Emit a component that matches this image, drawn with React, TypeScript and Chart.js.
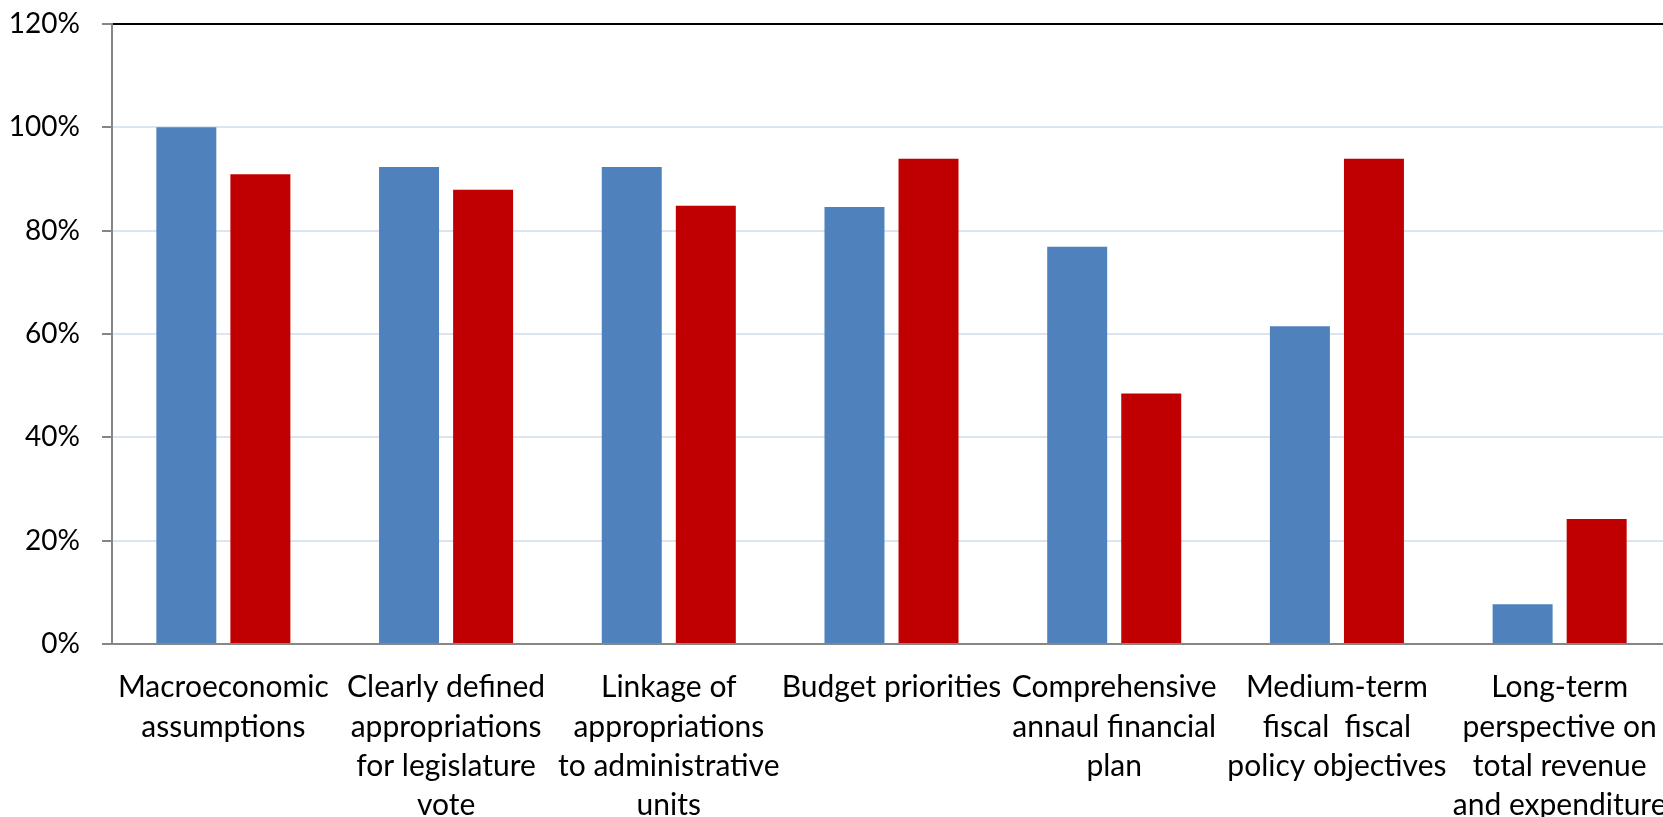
import React, { useEffect, useRef } from "react";
import { Chart, registerables } from "chart.js";

Chart.register(...registerables);

const categories: string[][] = [
  ["Macroeconomic", "assumptions"],
  ["Clearly defined", "appropriations", "for legislature", "vote"],
  ["Linkage of", "appropriations", "to administrative", "units"],
  ["Budget priorities"],
  ["Comprehensive", "annaul financial", "plan"],
  ["Medium-term", "fiscal  fiscal", "policy objectives"],
  ["Long-term", "perspective on", "total revenue", "and expenditure"],
];

const seriesBlue: number[] = [100, 92.3, 92.3, 84.6, 76.9, 61.5, 7.7];
const seriesRed: number[] = [90.9, 87.9, 84.8, 93.9, 48.5, 93.9, 24.2];

const yTicks: number[] = [0, 20, 40, 60, 80, 100, 120];

const CANVAS_W = 1705;
const CANVAS_H = 817;

export default function App() {
  const ref = useRef<HTMLCanvasElement | null>(null);

  useEffect(() => {
    if (!ref.current) return;
    const xFont = { family: "Lato", size: 30, lineHeight: 1.31 };
    const yFont = { family: "Lato", size: 28, lineHeight: 1.2 };
    const chart = new Chart(ref.current, {
      type: "bar",
      data: {
        labels: categories,
        datasets: [
          {
            label: "Series 1",
            data: seriesBlue,
            backgroundColor: "#4F81BD",
            barPercentage: 0.81,
            categoryPercentage: 0.665,
          },
          {
            label: "Series 2",
            data: seriesRed,
            backgroundColor: "#C00000",
            barPercentage: 0.81,
            categoryPercentage: 0.665,
          },
        ],
      },
      options: {
        responsive: false,
        animation: false,
        devicePixelRatio: 1,
        layout: { padding: { top: 24, right: 34, left: 0, bottom: 0 } },
        plugins: { legend: { display: false }, tooltip: { enabled: false } },
        scales: {
          x: {
            grid: { display: false },
            border: { display: true, color: "#868686", width: 2 },
            ticks: {
              font: xFont,
              color: "#000",
              padding: 16,
              maxRotation: 0,
              autoSkip: false,
            },
            afterFit: (s: any) => {
              s.height = 173;
              s.paddingLeft = 0;
              s.paddingRight = 0;
            },
          },
          y: {
            min: 0,
            max: 120,
            afterBuildTicks: (s: any) => {
              s.ticks = yTicks.map((v) => ({ value: v }));
            },
            grid: {
              color: (ctx: any) =>
                ctx.tick && ctx.tick.value === 120 ? "#000000" : "#dbe4f1",
              lineWidth: 2,
              tickColor: "#868686",
              tickLength: 10,
              tickWidth: 2,
            },
            border: { display: true, color: "#868686", width: 2 },
            ticks: {
              font: yFont,
              color: "#000",
              padding: 22,
              callback: (v: any) => v + "%",
            },
            afterFit: (s: any) => {
              s.width = 112;
              s.paddingTop = 0;
              s.paddingBottom = 0;
            },
          },
        },
      },
    });
    return () => chart.destroy();
  }, []);

  return (
    <div
      style={{
        position: "fixed",
        left: 0,
        top: 0,
        width: 1663,
        height: 817,
        overflow: "hidden",
        background: "#fff",
      }}
    >
      <canvas ref={ref} width={CANVAS_W} height={CANVAS_H} />
    </div>
  );
}
